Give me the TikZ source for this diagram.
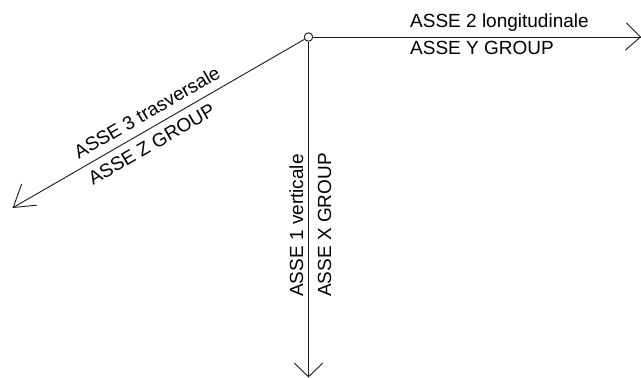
\documentclass[tikz,border=0pt]{standalone}
\usepackage{fontspec}
\setmainfont{Liberation Sans}
\begin{document}
\begin{tikzpicture}[x=1pt,y=1pt,
  axis/.style={line width=0.9pt, draw=black!90},
  arm/.style={line width=0.9pt, draw=black!90, line join=miter, line cap=round},
  lbl/.style={inner sep=0pt, anchor=base west, font=\fontsize{19}{20}\selectfont, text=black}]
\useasboundingbox (0,0) rectangle (641,378);
\node[circle, draw=black!90, line width=0.9pt, minimum size=8.5pt, inner sep=0pt] (O) at (308.5,341) {};
\coordinate (H) at (640.5,341);
\coordinate (V) at (308.5,1.2);
\coordinate (D) at (13.2,170.5);
\draw[axis] (O) -- (H);
\draw[axis] (O) -- (V);
\draw[axis] (O) -- (D);
\draw[arm] (H) ++(-14,14) -- (H) -- ++(-15,-13);
\draw[arm] (V) ++(-14,13.5) -- (V) -- ++(14,13.5);
\draw[arm] (D) ++(8.4,23.3) -- (D) -- ++(23.4,2.3);
\node[lbl] (t2a) at (410,350) {ASSE 2 longitudinale};
\node[lbl] (t2b) at (410,323) {ASSE Y GROUP};
\node[lbl, rotate=90] (t1a) at (303,81) {ASSE 1 verticale};
\node[lbl, rotate=90] (t1b) at (331,81) {ASSE X GROUP};
\node[lbl, rotate=30] (t3a) at (78.8,218.8) {ASSE 3 trasversale};
\node[lbl, rotate=30] (t3b) at (93,192.3) {ASSE Z GROUP};
\end{tikzpicture}
\end{document}
